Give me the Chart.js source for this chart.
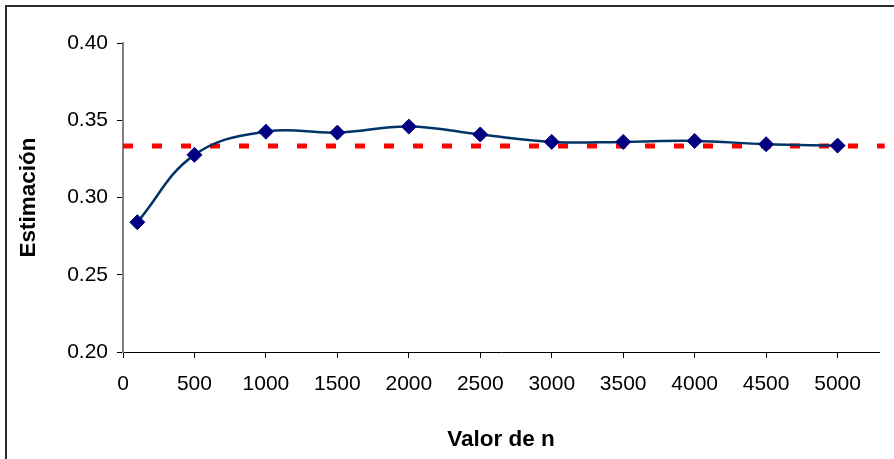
<!DOCTYPE html>
<html>
<head>
<meta charset="utf-8">
<script src="https://cdn.jsdelivr.net/npm/chart.js@4/dist/chart.umd.min.js"></script>
<style>
  html, body { margin: 0; padding: 0; background: #fff; }
  #wrap { width: 894px; height: 459px; }
</style>
</head>
<body>
<div id="wrap"><canvas id="chart" width="894" height="459"></canvas></div>
<script>
// sample sizes and the estimates
const nValues = [100, 500, 1000, 1500, 2000, 2500, 3000, 3500, 4000, 4500, 5000];
const estimates = [0.284, 0.3276, 0.3426, 0.342, 0.3459, 0.3408, 0.336, 0.336, 0.3366, 0.3345, 0.3336];

// reference value (red dashed line)
const refX = [0, 5330];
const refY = [1 / 3, 1 / 3];

const yTicks = [0.20, 0.25, 0.30, 0.35, 0.40];
const xTicks = [0, 500, 1000, 1500, 2000, 2500, 3000, 3500, 4000, 4500, 5000];

const FONT = "'Liberation Sans', Arial, sans-serif";

// frame around the chart (only top and left edges fall inside the picture)
const framePlugin = {
    id: 'frame',
    afterDraw(chart) {
        const ctx = chart.ctx;
        ctx.save();
        ctx.strokeStyle = '#2b2b2b';
        ctx.lineWidth = 2;
        ctx.beginPath();
        ctx.moveTo(6, 470);
        ctx.lineTo(6, 6);
        ctx.lineTo(900, 6);
        ctx.stroke();
        ctx.restore();
    }
};

const ctx = document.getElementById('chart').getContext('2d');
const chart = new Chart(ctx, {
    type: 'scatter',
    data: {
        datasets: [
            {
                label: 'Estimación',
                data: nValues.map((n, i) => ({ x: n, y: estimates[i] })),
                showLine: true,
                tension: 0.4,
                borderColor: '#003366',
                borderWidth: 2.5,
                pointStyle: 'rectRot',
                pointRadius: 7.5,
                pointBackgroundColor: '#000080',
                pointBorderColor: '#000080',
                pointBorderWidth: 1,
                order: 0
            },
            {
                label: 'Valor real',
                data: refX.map((x, i) => ({ x: x, y: refY[i] })),
                showLine: true,
                borderColor: '#ff0000',
                borderWidth: 5,
                borderDash: [10, 19],
                pointRadius: 0,
                clip: false,
                order: 1
            }
        ]
    },
    options: {
        responsive: false,
        animation: false,
        events: [],
        layout: { padding: { left: 7, top: 43, right: 15, bottom: 0 } },
        plugins: {
            legend: { display: false },
            tooltip: { enabled: false }
        },
        scales: {
            x: {
                type: 'linear',
                min: 0,
                max: 5290,
                afterBuildTicks: s => { s.ticks = xTicks.map(v => ({ value: v })); },
                afterFit: s => { s.height = 107; },
                grid: { display: true, drawOnChartArea: false, drawTicks: true, tickLength: 6, color: '#000', lineWidth: 1 },
                border: { display: true, color: '#000', width: 1 },
                ticks: {
                    color: '#000',
                    font: { family: FONT, size: 21 },
                    padding: 14,
                    maxRotation: 0,
                    autoSkip: false,
                    callback: v => String(v)
                },
                title: {
                    display: true,
                    text: 'Valor de n',
                    color: '#000',
                    font: { family: FONT, size: 22.5, weight: 'bold' },
                    padding: { top: 0, bottom: 6 }
                }
            },
            y: {
                min: 0.2,
                max: 0.4,
                afterBuildTicks: s => { s.ticks = yTicks.map(v => ({ value: v })); },
                afterFit: s => { s.width = 116; },
                grid: { display: true, drawOnChartArea: false, drawTicks: true, tickLength: 6, color: '#000', lineWidth: 1 },
                border: { display: true, color: '#808080', width: 2 },
                ticks: {
                    color: '#000',
                    font: { family: FONT, size: 21 },
                    padding: 9,
                    callback: v => v.toFixed(2)
                },
                title: {
                    display: true,
                    text: 'Estimación',
                    color: '#000',
                    font: { family: FONT, size: 22.5, weight: 'bold' },
                    padding: { top: 8, bottom: 0 }
                }
            }
        }
    },
    plugins: [framePlugin]
});
</script>
</body>
</html>
